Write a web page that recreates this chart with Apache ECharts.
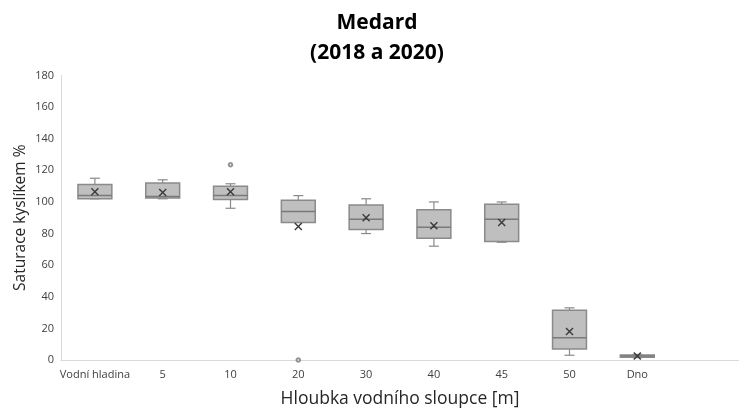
<!DOCTYPE html>
<html>
<head>
<meta charset="utf-8">
<style>
  html, body { margin: 0; padding: 0; background: #fff; }
  #chart { width: 739px; height: 413px; }
</style>
<script src="https://cdn.jsdelivr.net/npm/echarts@6/dist/echarts.min.js"></script>
</head>
<body>
<div id="chart"></div>
<script>
// Depth categories (last slot is an empty spacer on the axis)
const categories = ['Vodní hladina', '5', '10', '20', '30', '40', '45', '50', 'Dno', ''];

// Five-number summary per depth (oxygen saturation, %)
const minVals    = [102,   102,   96,    87,    80,    72,    74.5,  3,    1.5];
const q1Vals     = [102,   102.5, 101.5, 87,    82.5,  77,    75,    7,    1.8];
const medianVals = [104,   103.5, 104,   94,    89,    84,    89,    14,   2.5];
const q3Vals     = [111,   112,   110,   101,   98,    95,    98.5,  31.5, 3.2];
const maxVals    = [115,   114,   111.5, 104,   102,   100,   100,   33,   3.5];
const meanVals   = [106.5, 106,   106.5, 84.5,  90,    85,    87,    18,   2.5];

// Outliers as [category index, value]
const outliers = [[2, 123.5], [3, 0]];

// Y-axis ticks
const yMin = 0, yMax = 180, yStep = 20;

const FONT = '"Open Sans", sans-serif';
const BOX_FILL = '#bfbfbf';
const BOX_LINE = '#8a8a8a';

const boxData = minVals.map((mn, i) => [i, mn, q1Vals[i], medianVals[i], q3Vals[i], maxVals[i]]);
const meanData = meanVals.map((m, i) => [i, m]);

function renderBox(params, api) {
  const x = api.value(0);
  const band = api.size([1, 0])[0];
  const half = band * 0.25;
  const cap = 5;
  const pMin = api.coord([x, api.value(1)]);
  const pQ1 = api.coord([x, api.value(2)]);
  const pMed = api.coord([x, api.value(3)]);
  const pQ3 = api.coord([x, api.value(4)]);
  const pMax = api.coord([x, api.value(5)]);
  const cx = pMed[0];
  const lineStyle = { stroke: BOX_LINE, lineWidth: 1.2, fill: null };
  return {
    type: 'group',
    children: [
      { type: 'line', shape: { x1: cx, y1: pMax[1], x2: cx, y2: pQ3[1] }, style: lineStyle },
      { type: 'line', shape: { x1: cx - cap, y1: pMax[1], x2: cx + cap, y2: pMax[1] }, style: lineStyle },
      { type: 'line', shape: { x1: cx, y1: pQ1[1], x2: cx, y2: pMin[1] }, style: lineStyle },
      { type: 'line', shape: { x1: cx - cap, y1: pMin[1], x2: cx + cap, y2: pMin[1] }, style: lineStyle },
      {
        type: 'rect',
        shape: { x: cx - half, y: pQ3[1], width: half * 2, height: Math.max(pQ1[1] - pQ3[1], 1.5) },
        style: { fill: BOX_FILL, stroke: BOX_LINE, lineWidth: 1.5 }
      },
      { type: 'line', shape: { x1: cx - half, y1: pMed[1], x2: cx + half, y2: pMed[1] }, style: { stroke: '#7a7a7a', lineWidth: 1.5 } }
    ]
  };
}

function renderMean(params, api) {
  const p = api.coord([api.value(0), api.value(1)]);
  const s = 3.5;
  const st = { stroke: '#3a3a3a', lineWidth: 1.4 };
  return {
    type: 'group',
    children: [
      { type: 'line', shape: { x1: p[0] - s, y1: p[1] - s, x2: p[0] + s, y2: p[1] + s }, style: st },
      { type: 'line', shape: { x1: p[0] - s, y1: p[1] + s, x2: p[0] + s, y2: p[1] - s }, style: st }
    ]
  };
}

const chart = echarts.init(document.getElementById('chart'), null, { renderer: 'canvas' });
chart.setOption({
  animation: false,
  backgroundColor: '#ffffff',
  title: {
    text: 'Medard\n(2018 a 2020)',
    left: 372,
    top: 3,
    textAlign: 'center',
    textStyle: { fontFamily: FONT, fontWeight: 'bold', fontSize: 21, lineHeight: 30, color: '#000' }
  },
  grid: { left: 61, right: -6, top: 75.5, bottom: 50.5, containLabel: false },
  xAxis: {
    type: 'category',
    data: categories,
    boundaryGap: true,
    name: 'Hloubka vodního sloupce [m]',
    nameLocation: 'middle',
    nameGap: 30,
    nameTextStyle: { fontFamily: FONT, fontSize: 17.5, color: '#262626' },
    axisLine: { lineStyle: { color: '#d9d9d9', width: 1 } },
    axisTick: { show: false },
    axisLabel: { fontFamily: FONT, fontSize: 11, color: '#404040', margin: 9, interval: 0 },
    splitLine: { show: false }
  },
  yAxis: {
    type: 'value',
    min: yMin,
    max: yMax,
    interval: yStep,
    name: 'Saturace kyslíkem %',
    nameLocation: 'middle',
    nameGap: 32,
    nameMoveOverlap: false,
    nameTextStyle: { fontFamily: FONT, fontSize: 15.5, color: '#262626' },
    axisLine: { show: true, lineStyle: { color: '#d9d9d9', width: 1 } },
    axisTick: { show: false },
    axisLabel: { fontFamily: FONT, fontSize: 11, color: '#404040', margin: 7 },
    splitLine: { show: false }
  },
  series: [
    {
      type: 'custom',
      name: 'box',
      renderItem: renderBox,
      encode: { x: 0, y: [1, 2, 3, 4, 5] },
      data: boxData,
      z: 2
    },
    {
      type: 'custom',
      name: 'mean',
      renderItem: renderMean,
      encode: { x: 0, y: 1 },
      data: meanData,
      z: 3
    },
    {
      type: 'scatter',
      name: 'outliers',
      data: outliers,
      symbol: 'emptyCircle',
      symbolSize: 3.5,
      itemStyle: { color: '#7a7a7a', borderWidth: 1.2 },
      z: 3
    }
  ]
});
</script>
</body>
</html>
